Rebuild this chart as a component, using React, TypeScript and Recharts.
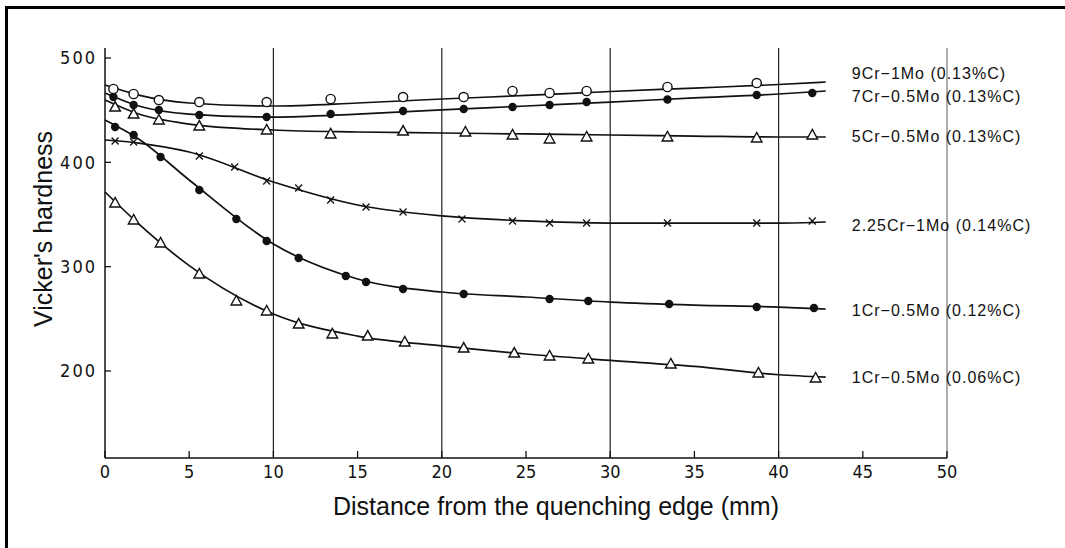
import React from "react"
import { ComposedChart, Line, Scatter, XAxis, YAxis, ReferenceLine, LabelList, Label } from "recharts"

// distances (mm) where the fitted curves are sampled
const curveX = [0, 2, 5, 10, 15, 20, 25, 30, 35, 40, 42.8]

// 9Cr-1Mo (0.13%C)
const cr9Curve = [474.1, 464.5, 456.9, 454.0, 456.9, 460.7, 464.1, 467.9, 471.2, 474.6, 477.0]
const cr9X = [0.5, 1.7, 3.2, 5.6, 9.6, 13.4, 17.7, 21.3, 24.2, 26.4, 28.6, 33.4, 38.7]
const cr9Y = [470.3, 465.5, 459.7, 457.8, 457.8, 460.7, 462.6, 462.6, 468.4, 466.5, 468.4, 472.2, 476.0]

// 7Cr-0.5Mo (0.13%C)
const cr7Curve = [466.5, 454.0, 446.3, 443.4, 446.3, 450.2, 454.0, 457.8, 461.7, 465.5, 468.4]
const cr7X = [0.5, 1.7, 3.2, 5.6, 9.6, 13.4, 17.7, 21.3, 24.2, 26.4, 28.6, 33.4, 38.7, 42.0]
const cr7Y = [462.6, 454.9, 450.2, 445.4, 443.4, 446.3, 449.2, 451.1, 453.0, 454.9, 457.8, 460.2, 464.5, 466.5]

// 5Cr-0.5Mo (0.13%C)
const cr5Curve = [459.7, 446.3, 436.7, 431.0, 429.1, 428.1, 427.2, 426.2, 425.2, 424.3, 424.3]
const cr5X = [0.6, 1.7, 3.2, 5.6, 9.6, 13.4, 17.7, 21.4, 24.2, 26.4, 28.6, 33.4, 38.7, 42.0]
const cr5Y = [453.0, 446.3, 440.6, 434.8, 431.0, 427.2, 430.0, 429.1, 426.2, 422.4, 424.3, 424.3, 423.3, 426.2]

// 2.25Cr-1Mo (0.14%C)
const cr225Curve = [421.4, 418.5, 409.9, 381.1, 359.1, 348.6, 343.8, 341.8, 341.8, 341.8, 342.8]
const cr225X = [0.6, 1.7, 5.6, 7.7, 9.6, 11.5, 13.4, 15.5, 17.7, 21.2, 24.2, 26.4, 28.6, 33.4, 38.7, 42.0]
const cr225Y = [420.4, 419.5, 406.1, 395.5, 382.1, 375.4, 363.9, 357.2, 352.4, 345.7, 343.8, 341.8, 341.8, 341.8, 341.8, 343.8]

// 1Cr-0.5Mo (0.12%C)
const cr1hCurve = [440.6, 422.4, 383.1, 321.7, 288.2, 275.7, 270.9, 266.1, 263.2, 261.3, 259.4]
const cr1hX = [0.6, 1.7, 3.3, 5.6, 7.8, 9.6, 11.5, 14.3, 15.5, 17.7, 21.3, 26.4, 28.7, 33.5, 38.7, 42.1]
const cr1hY = [433.9, 426.2, 405.1, 373.5, 345.7, 324.6, 308.3, 291.0, 285.3, 278.6, 273.8, 269.0, 267.1, 264.2, 261.3, 260.4]

// 1Cr-0.5Mo (0.06%C)
const cr1lCurve = [371.6, 341.0, 301.0, 254.6, 233.5, 224.0, 216.3, 210.2, 204.4, 196.4, 194.2]
const cr1lX = [0.6, 1.7, 3.3, 5.6, 7.8, 9.6, 11.5, 13.5, 15.6, 17.8, 21.3, 24.3, 26.4, 28.7, 33.6, 38.8, 42.2]
const cr1lY = [361.0, 344.7, 322.7, 293.0, 267.1, 257.5, 245.0, 235.5, 233.5, 227.8, 222.0, 217.2, 214.4, 211.5, 206.7, 198.1, 193.3]

const xTicks = [0, 5, 10, 15, 20, 25, 30, 35, 40, 45, 50]
const yTicks = [200, 300, 400, 500]
const gridX = [10, 20, 30, 40]

const series = [
  { name: "9Cr−1Mo (0.13%C)", curve: cr9Curve, xs: cr9X, ys: cr9Y, marker: "openCircle", dy: -9 },
  { name: "7Cr−0.5Mo (0.13%C)", curve: cr7Curve, xs: cr7X, ys: cr7Y, marker: "dot", dy: 6 },
  { name: "5Cr−0.5Mo (0.13%C)", curve: cr5Curve, xs: cr5X, ys: cr5Y, marker: "triangle", dy: 0 },
  { name: "2.25Cr−1Mo (0.14%C)", curve: cr225Curve, xs: cr225X, ys: cr225Y, marker: "cross", dy: 3 },
  { name: "1Cr−0.5Mo (0.12%C)", curve: cr1hCurve, xs: cr1hX, ys: cr1hY, marker: "dot", dy: 1 },
  { name: "1Cr−0.5Mo (0.06%C)", curve: cr1lCurve, xs: cr1lX, ys: cr1lY, marker: "triangle", dy: 0 },
]

const INK = "#111"
const tickFont = "'Liberation Sans Narrow', 'DejaVu Sans Condensed', 'Liberation Sans', sans-serif"

function Marker({ kind, cx, cy }: { kind: string; cx: number; cy: number }) {
  if (cx == null || cy == null) return null
  if (kind === "openCircle") return <circle cx={cx} cy={cy} r={4.6} fill="#fff" stroke={INK} strokeWidth={1.4} />
  if (kind === "dot") return <circle cx={cx} cy={cy} r={4.2} fill={INK} />
  if (kind === "triangle")
    return (
      <path
        d={`M${cx},${cy - 5.5} L${cx - 5.3},${cy + 4} L${cx + 5.3},${cy + 4} Z`}
        fill="#fff"
        stroke={INK}
        strokeWidth={1.4}
      />
    )
  return (
    <g stroke={INK} strokeWidth={1.3}>
      <line x1={cx - 3.5} y1={cy - 3.5} x2={cx + 3.5} y2={cy + 3.5} />
      <line x1={cx - 3.5} y1={cy + 3.5} x2={cx + 3.5} y2={cy - 3.5} />
    </g>
  )
}

export default function App() {
  return (
    <div style={{ position: "absolute", left: 0, top: 0, width: 1065, height: 548, overflow: "hidden", background: "#fff" }}>
      {/* scan frame: only top and left edges show */}
      <div style={{ position: "absolute", left: 5, top: 6, width: 1100, height: 2.5, background: "#000" }} />
      <div style={{ position: "absolute", left: 5, top: 6, width: 2.5, height: 600, background: "#000" }} />
      <div style={{ position: "absolute", left: 0, top: 0 }}>
        <ComposedChart width={1065} height={548} margin={{ top: 48, right: 118, bottom: 60, left: 45 }}>
          <XAxis
            type="number"
            dataKey="x"
            domain={[0, 50]}
            ticks={xTicks}
            interval={0}
            height={30}
            axisLine={{ stroke: INK, strokeWidth: 1.5 }}
            tickLine={{ stroke: INK, strokeWidth: 1.3 }}
            tickSize={-7}
            tickMargin={14}
            tick={{ fill: INK, fontSize: 18, fontFamily: tickFont }}
          >
            <Label
              value="Distance from the quenching edge (mm)"
              position="bottom"
              offset={9}
              dx={30}
              style={{ fill: INK, fontSize: 25, fontFamily: "'Liberation Sans', Arial, sans-serif" }}
            />
          </XAxis>
          <YAxis
            type="number"
            domain={[116.6, 509.6]}
            allowDataOverflow
            ticks={yTicks}
            width={60}
            axisLine={{ stroke: INK, strokeWidth: 1.5 }}
            tickLine={{ stroke: INK, strokeWidth: 1.3 }}
            tickSize={-6}
            tickMargin={14}
            tick={{ fill: INK, fontSize: 18, fontFamily: tickFont, letterSpacing: 2 }}
          >
            <Label
              content={(p: any) => {
                const vb = p.viewBox || {}
                const cx = vb.x - 2
                const cy = vb.y + vb.height / 2 - 24
                return (
                  <text
                    x={cx}
                    y={cy}
                    transform={`rotate(-90 ${cx} ${cy})`}
                    textAnchor="middle"
                    dominantBaseline="central"
                    fill={INK}
                    fontSize={25}
                    fontFamily="'Liberation Sans', Arial, sans-serif"
                  >
                    Vicker's hardness
                  </text>
                )
              }}
            />
          </YAxis>
          {gridX.map((g) => (
            <ReferenceLine key={g} x={g} stroke="#222" strokeWidth={1.2} />
          ))}
          <ReferenceLine x={50} stroke="#777" strokeWidth={1.2} />
          {series.map((s) => {
            const last = curveX.length - 1
            const data = curveX.map((x, i) => ({ x, y: s.curve[i], tag: i === last ? s.name : undefined }))
            return (
              <Line
                key={"c" + s.name}
                data={data}
                dataKey="y"
                type="monotone"
                stroke={INK}
                strokeWidth={1.7}
                dot={false}
                activeDot={false}
                isAnimationActive={false}
              >
                <LabelList
                  dataKey="tag"
                  content={(p: any) => {
                    if (!p.value) return null
                    const px = p.x ?? p.viewBox?.x
                    const py = p.y ?? p.viewBox?.y
                    return (
                      <text
                        x={px + 26}
                        y={py + s.dy}
                        dominantBaseline="central"
                        fill={INK}
                        fontSize={16}
                        letterSpacing={1}
                        fontFamily="'Liberation Sans', Arial, sans-serif"
                      >
                        {p.value}
                      </text>
                    )
                  }}
                />
              </Line>
            )
          })}
          {series.map((s) => (
            <Scatter
              key={"p" + s.name}
              data={s.xs.map((x, i) => ({ x, y: s.ys[i] }))}
              dataKey="y"
              isAnimationActive={false}
              shape={(p: any) => <Marker kind={s.marker} cx={p.cx} cy={p.cy} />}
            />
          ))}
        </ComposedChart>
      </div>
    </div>
  )
}
